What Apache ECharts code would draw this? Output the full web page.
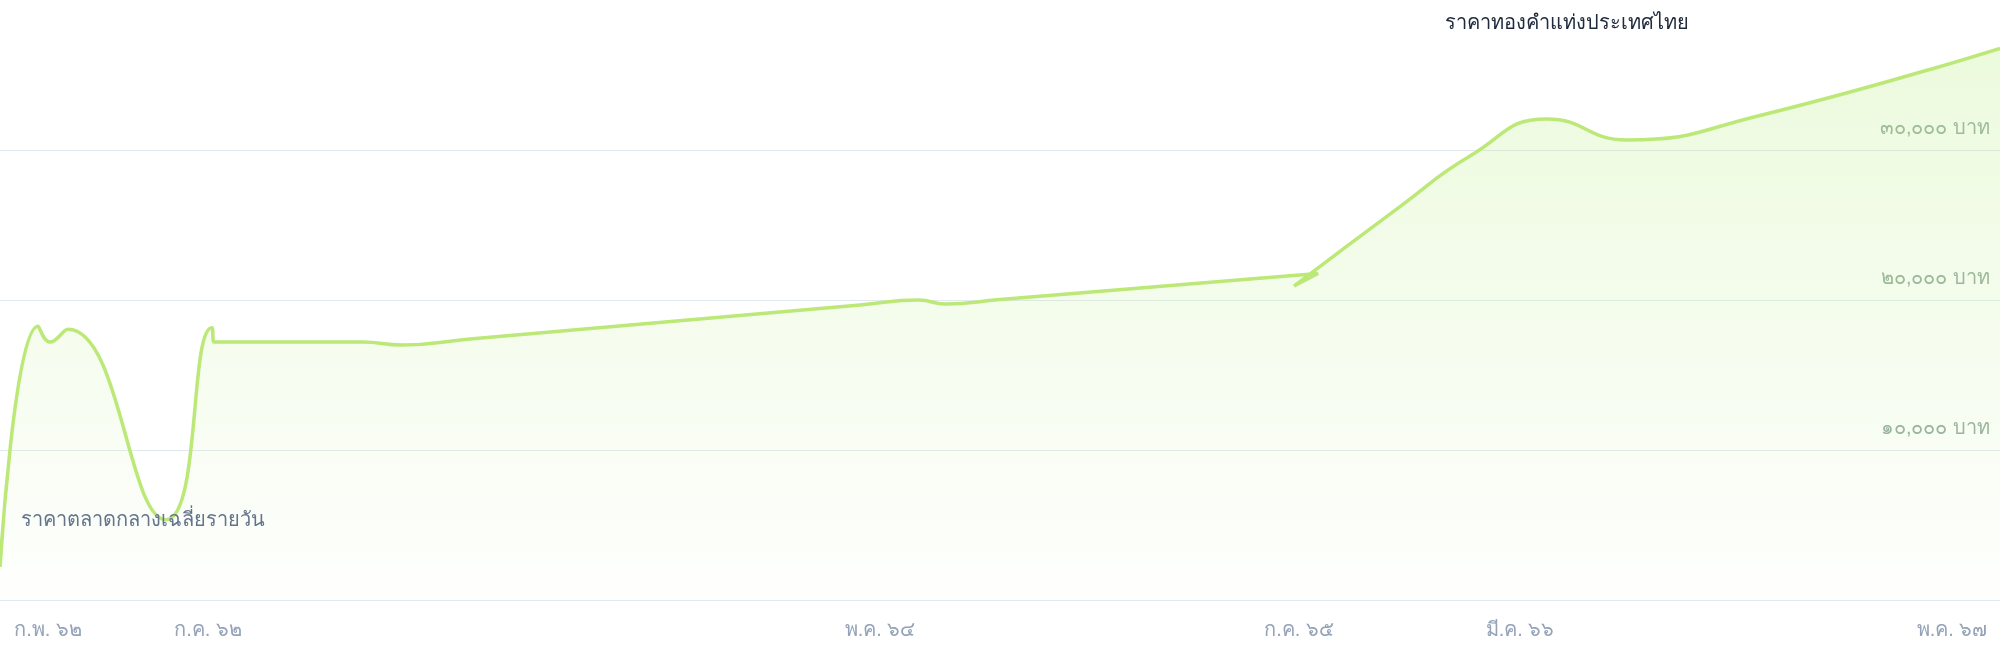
<!DOCTYPE html>
<html>
<head>
<meta charset="utf-8">
<title>ราคาทองคำแท่งประเทศไทย</title>
<script src="https://cdn.jsdelivr.net/npm/echarts@6/dist/echarts.min.js"></script>
<style>
html, body { margin: 0; padding: 0; background: #fff; }
#chart { width: 2000px; height: 660px; }
</style>
</head>
<body>
<div id="chart"></div>
<script type="text/javascript">
// ข้อมูลราคา (วันที่, ราคา) - ตามลำดับที่บันทึก
var dates = ['2019-01-01', '2019-02-08', '2019-02-20', '2019-03-10', '2019-06-16', '2019-08-01',
    '2019-08-03', '2019-12-29', '2020-02-07', '2020-04-15', '2021-05-10', '2021-07-08',
    '2021-08-03', '2021-09-27', '2022-06-04', '2022-08-11', '2022-07-18', '2022-11-01',
    '2023-01-10', '2023-03-28', '2023-06-16', '2023-10-27', '2024-06-23'];
var prices = [2200, 18250, 17200, 18050, 5350, 18150, 17200, 17200, 17000, 17400, 19660, 20000,
    19730, 20030, 21400, 21770, 20930, 26230, 29600, 32070, 30670, 32300, 36780];
var labelDates = ['2019-02-18', '2019-07-28', '2021-05-30', '2022-07-23', '2023-03-01', '2024-05-06'];
var yTicks = [0, 10000, 20000, 30000, 40000];
var monthNames = ['ม.ค.', 'ก.พ.', 'มี.ค.', 'เม.ย.', 'พ.ค.', 'มิ.ย.', 'ก.ค.', 'ส.ค.', 'ก.ย.', 'ต.ค.', 'พ.ย.', 'ธ.ค.'];
var thaiDigits = ['๐', '๑', '๒', '๓', '๔', '๕', '๖', '๗', '๘', '๙'];
var titleText = 'ราคาทองคำแท่งประเทศไทย';
var noteText = 'ราคาตลาดกลางเฉลี่ยรายวัน';

var DAY = 86400000;
var t0 = echarts.number.parseDate(dates[0]).getTime();
function dayOf(s) {
    return Math.round((echarts.number.parseDate(s).getTime() - t0) / DAY);
}
function toThai(s) {
    return String(s).replace(/[0-9]/g, function (d) { return thaiDigits[+d]; });
}

var dom = document.getElementById('chart');
var myChart = echarts.init(dom, null, { renderer: 'canvas' });
var font = 'sans-serif';

var seriesData = [];
for (var i = 0; i < dates.length; i++) {
    seriesData.push([dayOf(dates[i]), prices[i]]);
}
var labelValues = labelDates.map(dayOf);

var option = {
    animation: false,
    backgroundColor: '#ffffff',
    title: [
        {
            text: titleText,
            left: 1440,
            top: 8,
            textStyle: { color: '#1e293b', fontSize: 20, fontWeight: 'normal', fontFamily: font }
        },
        {
            text: noteText,
            left: 16,
            top: 505,
            textStyle: { color: '#64748b', fontSize: 20, fontWeight: 'normal', fontFamily: font }
        }
    ],
    grid: {
        left: 0,
        right: 0,
        top: 0,
        bottom: 60,
        containLabel: false,
        outerBoundsMode: 'none'
    },
    xAxis: {
        type: 'value',
        min: 'dataMin',
        max: 'dataMax',
        axisLine: { show: true, lineStyle: { color: '#e2e8f0', width: 1 } },
        axisTick: { show: false },
        splitLine: { show: false },
        axisLabel: {
            customValues: labelValues,
            margin: 20,
            color: '#94a3b8',
            fontSize: 20,
            fontFamily: font,
            formatter: function (val) {
                var d = new Date(t0 + val * DAY);
                return monthNames[d.getMonth()] + ' ' + toThai(String(d.getFullYear() + 543).slice(2));
            }
        }
    },
    yAxis: {
        type: 'value',
        position: 'right',
        min: yTicks[0],
        max: yTicks[yTicks.length - 1],
        interval: yTicks[1] - yTicks[0],
        axisLine: { show: false },
        axisTick: { show: false },
        splitLine: {
            show: true,
            lineStyle: { color: ['#e2e8f0', '#e2e8f0', '#e2e8f0', '#e2e8f0', 'rgba(0,0,0,0)'], width: 1 }
        },
        axisLabel: {
            inside: true,
            showMinLabel: false,
            showMaxLabel: false,
            margin: 10,
            verticalAlign: 'bottom',
            padding: [0, 0, 12, 0],
            color: '#98b0a0',
            fontSize: 20,
            fontFamily: font,
            formatter: function (v) { return toThai(echarts.format.addCommas(v)) + ' บาท'; }
        }
    },
    series: [
        {
            name: titleText,
            type: 'line',
            smooth: true,
            showSymbol: false,
            data: seriesData,
            lineStyle: { color: '#bce877', width: 3.5 },
            itemStyle: { color: '#bce877' },
            areaStyle: {
                color: new echarts.graphic.LinearGradient(0, 0, 0, 1, [
                    { offset: 0, color: 'rgba(180,235,120,0.36)' },
                    { offset: 1, color: 'rgba(180,235,120,0.02)' }
                ])
            }
        }
    ]
};

if (option && typeof option === 'object') {
    myChart.setOption(option, true);
}
</script>
</body>
</html>
